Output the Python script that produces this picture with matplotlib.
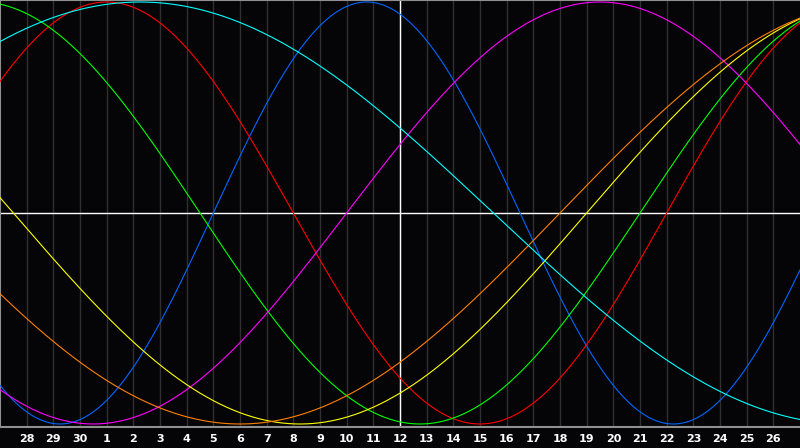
import numpy as np
import matplotlib
matplotlib.use("Agg")
import matplotlib.pyplot as plt

# biorhythm cycles (days) and their colours
cycle_names = ["physical", "emotional", "intellectual", "intuitive",
               "aesthetic", "awareness", "spiritual"]
cycle_days = [23, 28, 33, 38, 43, 48, 53]
cycle_colors = ["#0066ff", "#ff0000", "#00ff00", "#ff00ff",
                "#ffff00", "#ff8000", "#00ffff"]

# days lived at the left edge of the chart
days_at_start = 31755
n_days = 30

day_labels = ["28", "29", "30"] + [str(d) for d in range(1, 27)]

W, H = 800, 448
fig = plt.figure(figsize=(W / 100, H / 100), dpi=100, facecolor="#050508")
ax = fig.add_axes([0, 1 - 427 / H, 1, 427 / H], facecolor="#050508")

# vertical day lines
for k in range(1, n_days):
    ax.axvline(k, color="#303030", lw=1, zorder=1)

# centre cross
ax.axvline(n_days / 2, color="white", lw=1, zorder=2)
ax.axhline(0, color="white", lw=1, zorder=2)

t = np.linspace(0, n_days, 1601)
for name, period, col in zip(cycle_names, cycle_days, cycle_colors):
    v = np.sin(2 * np.pi * (days_at_start + t) / period)
    ax.plot(t, v, color=col, lw=0.8, zorder=3, label=name)

ax.set_xlim(0, n_days)
ax.set_ylim(-214 / 211, 213 / 211)

ax.set_xticks(range(1, n_days))
ax.set_xticklabels(day_labels)
ax.tick_params(axis="x", length=0, pad=5, colors="white", labelsize=8)
for lab in ax.get_xticklabels():
    lab.set_fontweight("bold")
ax.set_yticks([])

for side in ["top", "left", "bottom"]:
    ax.spines[side].set_color("#909090")
    ax.spines[side].set_linewidth(1.5)
ax.spines["right"].set_visible(False)

fig.savefig("out.png", dpi=100, facecolor=fig.get_facecolor())
